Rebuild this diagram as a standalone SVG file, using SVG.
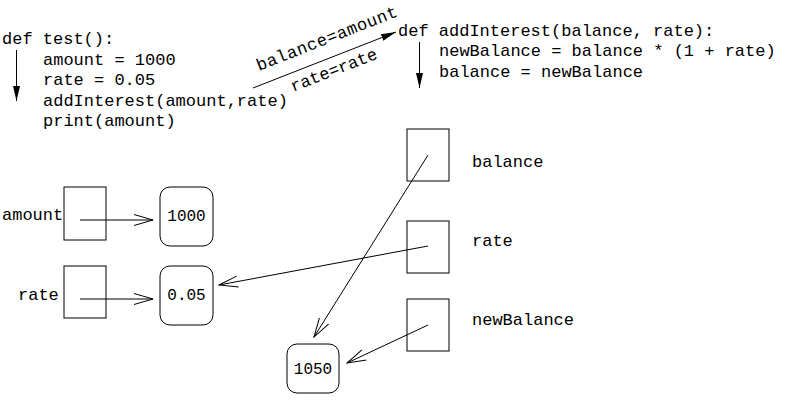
<svg xmlns="http://www.w3.org/2000/svg" width="798" height="405" viewBox="0 0 798 405">
<style>
text{font-family:"Liberation Mono","DejaVu Sans Mono",monospace;font-size:17px;fill:#000}
.num{font-size:16px}
.box{fill:#fff;stroke:#000;stroke-width:1}
.ln{stroke:#000;stroke-width:1;fill:none}
</style>
<defs>
<marker id="fill" markerWidth="16" markerHeight="10" refX="15" refY="5" orient="auto" markerUnits="userSpaceOnUse"><path d="M0,1.5 L15,5 L0,8.5 Z" fill="#000"/></marker>
<marker id="open" markerWidth="20" markerHeight="14" refX="19" refY="7" orient="auto" markerUnits="userSpaceOnUse"><path d="M0,1.5 L19,7 L0,12.5" fill="none" stroke="#000" stroke-width="1"/></marker>
</defs>
<g id="code-test">
<text x="2" y="44">def test():</text>
<text x="43" y="65">amount = 1000</text>
<text x="43" y="85">rate = 0.05</text>
<text x="43" y="106">addInterest(amount,rate)</text>
<text x="43" y="126">print(amount)</text>
</g>
<g id="code-addInterest">
<text x="398" y="36">def addInterest(balance, rate):</text>
<text x="439" y="56">newBalance = balance * (1 + rate)</text>
<text x="439" y="77">balance = newBalance</text>
</g>
<g id="amount-var"><text x="2" y="220">amount</text><rect class="box" x="64" y="187" width="42" height="53"/></g>
<g id="rate-var"><text x="18" y="300">rate</text><rect class="box" x="64" y="266" width="42" height="52"/></g>
<g id="val-1000"><rect class="box" x="160" y="187" width="53" height="59" rx="10"/><text class="num" x="186.5" y="221" text-anchor="middle">1000</text></g>
<g id="val-005"><rect class="box" x="160" y="266" width="53" height="59" rx="10"/><text class="num" x="186.5" y="300" text-anchor="middle">0.05</text></g>
<g id="balance-var"><rect class="box" x="407" y="129" width="42" height="52"/><text x="472" y="167">balance</text></g>
<g id="rate-param"><rect class="box" x="407" y="221" width="42" height="52"/><text x="472" y="246">rate</text></g>
<g id="newBalance-var"><rect class="box" x="407" y="299" width="42" height="52"/><text x="472" y="325">newBalance</text></g>
<g id="val-1050"><rect class="box" x="287" y="344" width="52" height="49" rx="10"/><text class="num" x="313" y="374" text-anchor="middle">1050</text></g>
<g id="connectors">
<line class="ln" x1="16.5" y1="50" x2="16.5" y2="101" marker-end="url(#fill)"/>
<line class="ln" x1="419.5" y1="42" x2="419.5" y2="88" marker-end="url(#fill)"/>
<line class="ln" x1="253" y1="88" x2="396" y2="32" marker-end="url(#fill)"/>
<text x="0" y="0" transform="translate(259,71) rotate(-21.5)" textLength="150" lengthAdjust="spacing">balance=amount</text>
<text x="0" y="0" transform="translate(293,92) rotate(-21.5)">rate=rate</text>
<line class="ln" x1="80" y1="220" x2="153" y2="220" marker-end="url(#open)"/>
<line class="ln" x1="80" y1="299" x2="153" y2="299" marker-end="url(#open)"/>
<line class="ln" x1="428" y1="155" x2="314" y2="337" marker-end="url(#open)"/>
<line class="ln" x1="428" y1="246" x2="219" y2="285" marker-end="url(#open)"/>
<line class="ln" x1="428" y1="325" x2="347" y2="363" marker-end="url(#open)"/>
</g>
</svg>
